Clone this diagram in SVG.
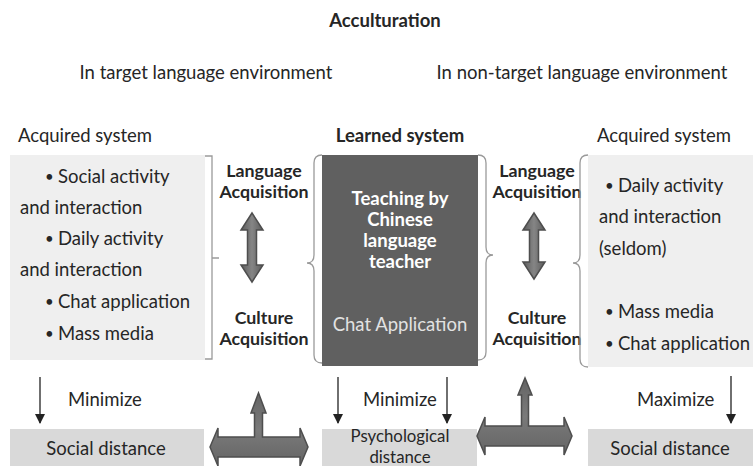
<svg xmlns="http://www.w3.org/2000/svg" width="753" height="466" viewBox="0 0 753 466">
  <style>
    text { font-family: Lato, "Noto Sans", "Liberation Sans", sans-serif; font-size: 18.5px; fill: #262626; }
    .b { font-weight: bold; }
    .c { text-anchor: middle; }
    .acq { font-size: 17.8px; }
    .dot { font-size: 15px; }
    .psy { font-size: 16.8px; }
    .w { fill: #ffffff; }
    .lw { fill: #e2e2e2; }
    .pale { fill: #efefef; }
    .mid { fill: #d9d9d9; }
    .dark { fill: #606060; }
    .brace { fill: none; stroke: #9a9a9a; stroke-width: 1.3; }
    .thin { stroke: #222222; stroke-width: 1.3; fill: none; }
    .big { fill: url(#gv); stroke: #4e4e4e; stroke-width: 1.5; stroke-linejoin: miter; }
    .bigh { fill: url(#gh); stroke: #4e4e4e; stroke-width: 1.5; stroke-linejoin: miter; }
  </style>
  <defs>
    <marker id="tri" viewBox="0 0 10 10" refX="9" refY="5" markerWidth="10" markerHeight="10" markerUnits="userSpaceOnUse" orient="auto">
      <path d="M0,0 L10,5 L0,10 Z" fill="#222222"/>
    </marker>
    <linearGradient id="gv" x1="0" y1="0" x2="1" y2="0">
      <stop offset="0" stop-color="#5c5c5c"/>
      <stop offset="0.5" stop-color="#858585"/>
      <stop offset="1" stop-color="#5c5c5c"/>
    </linearGradient>
    <linearGradient id="gh" x1="0" y1="0" x2="0" y2="1">
      <stop offset="0" stop-color="#646464"/>
      <stop offset="0.5" stop-color="#7a7a7a"/>
      <stop offset="1" stop-color="#646464"/>
    </linearGradient>
  </defs>

  <rect width="753" height="466" fill="#ffffff"/>

  <!-- headings -->
  <g id="headings">
    <text class="b c" x="385" y="27">Acculturation</text>
    <text class="c" x="206" y="79">In target language environment</text>
    <text class="c" x="582" y="79">In non-target language environment</text>
    <text class="c" x="85" y="142">Acquired system</text>
    <text class="b c" x="400" y="142">Learned system</text>
    <text class="c" x="664" y="142">Acquired system</text>
  </g>

  <!-- acquired system, target language environment -->
  <g id="acquired-left">
    <rect class="pale" x="10" y="155" width="195" height="205"/>
    <text class="dot" x="45" y="182">•</text><text x="58" y="183">Social activity</text>
    <text x="20" y="214">and interaction</text>
    <text class="dot" x="45" y="244">•</text><text x="58" y="245">Daily activity</text>
    <text x="20" y="276">and interaction</text>
    <text class="dot" x="45" y="307">•</text><text x="58" y="308">Chat application</text>
    <text class="dot" x="45" y="339">•</text><text x="58" y="340">Mass media</text>
  </g>

  <!-- acquisition labels, left -->
  <g id="acquisition-left">
    <text class="b c acq" x="264" y="177">Language</text>
    <text class="b c acq" x="264" y="198">Acquisition</text>
    <text class="b c acq" x="264" y="324">Culture</text>
    <text class="b c acq" x="264" y="345">Acquisition</text>
  </g>

  <!-- learned system -->
  <g id="learned">
    <rect class="dark" x="322" y="155" width="156" height="211"/>
    <text class="b c w" x="400" y="205">Teaching by</text>
    <text class="b c w" x="400" y="226">Chinese</text>
    <text class="b c w" x="400" y="247">language</text>
    <text class="b c w" x="400" y="268">teacher</text>
    <text class="c lw" x="400" y="331">Chat Application</text>
  </g>

  <!-- acquisition labels, right -->
  <g id="acquisition-right">
    <text class="b c acq" x="537" y="177">Language</text>
    <text class="b c acq" x="537" y="198">Acquisition</text>
    <text class="b c acq" x="537" y="324">Culture</text>
    <text class="b c acq" x="537" y="345">Acquisition</text>
  </g>

  <!-- acquired system, non-target language environment -->
  <g id="acquired-right">
    <rect class="pale" x="588" y="155" width="165" height="212"/>
    <text class="dot" x="605" y="191">•</text><text x="618" y="192">Daily activity</text>
    <text x="599" y="223">and interaction</text>
    <text x="599" y="255">(seldom)</text>
    <text class="dot" x="605" y="317">•</text><text x="618" y="318">Mass media</text>
    <text class="dot" x="605" y="349">•</text><text x="618" y="350">Chat application</text>
  </g>

  <!-- distances -->
  <g id="social-distance-left">
    <rect class="mid" x="10" y="429" width="194" height="37"/>
    <text class="c" x="106" y="455">Social distance</text>
  </g>
  <g id="psychological-distance">
    <rect class="mid" x="322" y="429" width="155" height="37"/>
    <text class="c psy" x="400" y="442">Psychological</text>
    <text class="c psy" x="400" y="463">distance</text>
  </g>
  <g id="social-distance-right">
    <rect class="mid" x="588" y="429" width="165" height="37"/>
    <text class="c" x="670" y="455">Social distance</text>
  </g>

  <!-- connectors: brackets, braces and arrows -->
  <g id="connectors">
    <path class="brace" d="M205,156 H212 V359 H205 M212,258 H219"/>
    <path class="brace" d="M322,155 Q314,155 314,163 V255 Q314,263 307,263 Q314,263 314,271 V355 Q314,363 322,363"/>
    <path class="brace" d="M478,155 Q486,155 486,163 V247 Q486,255 493,255 Q486,255 486,263 V352 Q486,360 478,360"/>
    <path class="brace" d="M588,155 Q580,155 580,163 V255 Q580,263 573,263 Q580,263 580,271 V359 Q580,367 588,367"/>

    <path class="big" d="M252,213 L263,230 L256.5,230 L256.5,265 L263,265 L252,282 L241,265 L247.5,265 L247.5,230 L241,230 Z"/>
    <path class="big" d="M534,213 L545,230 L538.5,230 L538.5,262 L545,262 L534,279 L523,262 L529.5,262 L529.5,230 L523,230 Z"/>

    <path class="bigh" d="M210,447 L218,428 L218,437 L254.5,437 L254.5,413 L251,413 L258.5,393 L266,413 L262.5,413 L262.5,437 L300,437 L300,428 L308,447 L300,466 L300,457 L218,457 L218,466 Z"/>
    <path class="bigh" d="M477,436 L485,417 L485,426 L521.5,426 L521.5,395 L518,395 L525,378 L532,395 L528.5,395 L528.5,426 L564,426 L564,417 L572,436 L564,455 L564,446 L485,446 L485,455 Z"/>

    <line class="thin" x1="40" y1="377" x2="40" y2="423" marker-end="url(#tri)"/>
    <line class="thin" x1="338" y1="377" x2="338" y2="423" marker-end="url(#tri)"/>
    <line class="thin" x1="447" y1="377" x2="447" y2="423" marker-end="url(#tri)"/>
    <line class="thin" x1="731" y1="376" x2="731" y2="423" marker-end="url(#tri)"/>
  </g>

  <g id="labels">
    <text x="68" y="406">Minimize</text>
    <text x="363" y="406">Minimize</text>
    <text x="637" y="406">Maximize</text>
  </g>
</svg>
